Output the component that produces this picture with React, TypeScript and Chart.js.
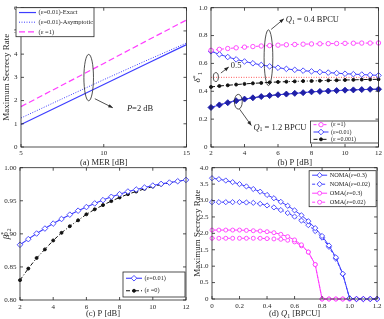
import React, { useEffect, useRef } from "react";
import { Chart, registerables } from "chart.js";
import { drawPoint } from "chart.js/helpers";
Chart.register(...registerables);

const SERIF = "'Liberation Serif','Times New Roman',serif";
const INK = "#262626";
const BLUE = "#3d3dff";
const MAG = "#ff3dff";
const NAVY = "#1f1fa8";
const RED = "#ff3333";

// ---------- (a) ----------
const merDb = [5, 7.5, 10, 12.5, 15];
const rateExact = [0.97, 1.83, 2.69, 3.55, 4.41];
const rateAsym = [1.25, 2.08, 2.9, 3.7, 4.48];
const rateEps1 = [1.74, 2.67, 3.6, 4.54, 5.47];

// ---------- (b) & (c) ----------
const powerDb = [2, 2.5, 3, 3.5, 4, 4.5, 5, 5.5, 6, 6.5, 7, 7.5, 8, 8.5, 9, 9.5, 10, 10.5, 11, 11.5, 12];
const deltaEps1 = [0.694, 0.701, 0.707, 0.712, 0.717, 0.721, 0.725, 0.728, 0.731, 0.734, 0.736, 0.738, 0.74, 0.741, 0.742, 0.743, 0.744, 0.745, 0.746, 0.746, 0.747];
const deltaEps001 = [0.687, 0.665, 0.646, 0.629, 0.614, 0.601, 0.589, 0.579, 0.569, 0.561, 0.554, 0.548, 0.543, 0.538, 0.534, 0.53, 0.526, 0.523, 0.52, 0.517, 0.514];
const deltaEps0001 = [0.431, 0.438, 0.443, 0.448, 0.453, 0.457, 0.46, 0.464, 0.467, 0.469, 0.471, 0.473, 0.474, 0.476, 0.478, 0.479, 0.481, 0.482, 0.484, 0.485, 0.486];
const deltaQ12 = [0.284, 0.302, 0.318, 0.332, 0.344, 0.353, 0.362, 0.369, 0.375, 0.38, 0.385, 0.39, 0.396, 0.399, 0.402, 0.405, 0.408, 0.41, 0.412, 0.414, 0.415];
const thresholdX = [2, 12];
const thresholdY = [0.5, 0.5];
const betaEps001 = [0.8835, 0.892, 0.9005, 0.908, 0.9155, 0.9225, 0.929, 0.935, 0.9405, 0.946, 0.951, 0.956, 0.96, 0.964, 0.967, 0.97, 0.973, 0.9755, 0.9775, 0.9795, 0.9815];
const betaEps0 = [0.83, 0.8475, 0.8635, 0.8765, 0.89, 0.9015, 0.9115, 0.9205, 0.9295, 0.937, 0.9435, 0.9495, 0.955, 0.96, 0.964, 0.968, 0.9715, 0.9745, 0.977, 0.9795, 0.9815];

// ---------- (d) ----------
const q1 = [0, 0.05, 0.1, 0.15, 0.2, 0.25, 0.3, 0.35, 0.4, 0.45, 0.5, 0.55, 0.6, 0.65, 0.7, 0.75, 0.8, 0.85, 0.9, 0.95, 1, 1.05, 1.1, 1.15, 1.2];
const nomaEps03 = [3.68, 3.65, 3.61, 3.56, 3.5, 3.43, 3.35, 3.27, 3.17, 3.07, 2.96, 2.84, 2.7, 2.55, 2.37, 2.16, 1.92, 1.63, 1.27, 0.77, 0.02, 0, 0, 0, 0];
const nomaEps002 = [2.95, 2.95, 2.95, 2.95, 2.95, 2.94, 2.93, 2.9, 2.85, 2.79, 2.71, 2.62, 2.51, 2.39, 2.25, 2.07, 1.87, 1.59, 1.23, 0.76, 0.02, 0, 0, 0, 0];
const omaEps03 = [2.1, 2.1, 2.1, 2.1, 2.1, 2.09, 2.08, 2.07, 2.05, 2.02, 1.97, 1.9, 1.8, 1.65, 1.43, 1.05, 0, 0, 0, 0, 0, 0, 0, 0, 0];
const omaEps002 = [1.85, 1.85, 1.85, 1.85, 1.85, 1.85, 1.85, 1.85, 1.84, 1.83, 1.82, 1.79, 1.74, 1.62, 1.43, 1.05, 0, 0, 0, 0, 0, 0, 0, 0, 0];

type Seg = { t: string; it?: boolean; sub?: boolean; sup?: boolean };

function segFont(size: number, s: Seg) {
  const sz = s.sub || s.sup ? size * 0.7 : size;
  return `${s.it ? "italic " : ""}${sz}px ${SERIF}`;
}
function drawRich(ctx: CanvasRenderingContext2D, segs: Seg[], x: number, y: number, size: number, align: string, rot = 0) {
  ctx.save();
  ctx.translate(x, y);
  ctx.rotate(rot);
  let w = 0;
  segs.forEach((s) => { ctx.font = segFont(size, s); w += ctx.measureText(s.t).width; });
  let cx = align === "center" ? -w / 2 : 0;
  ctx.textBaseline = "middle";
  ctx.textAlign = "left";
  ctx.fillStyle = INK;
  segs.forEach((s) => {
    ctx.font = segFont(size, s);
    const dy = s.sub ? size * 0.28 : s.sup ? -size * 0.32 : 0;
    ctx.fillText(s.t, cx, dy);
    cx += ctx.measureText(s.t).width;
  });
  ctx.restore();
}

const decoPlugin = {
  id: "deco",
  afterDraw(chart: any, _a: any, opts: any) {
    const ctx: CanvasRenderingContext2D = chart.ctx;
    const { left, right, top, bottom } = chart.chartArea;
    const xs = chart.scales.x;
    const ys = chart.scales.y;
    const line = (x1: number, y1: number, x2: number, y2: number) => {
      ctx.beginPath(); ctx.moveTo(x1, y1); ctx.lineTo(x2, y2); ctx.stroke();
    };
    ctx.save();
    ctx.setLineDash([]);
    ctx.strokeStyle = INK;
    ctx.lineWidth = 0.8;
    ctx.strokeRect(left, top, right - left, bottom - top);
    const tl = 3;
    xs.ticks.forEach((t: any) => {
      const p = xs.getPixelForValue(t.value);
      line(p, bottom, p, bottom - tl); line(p, top, p, top + tl);
    });
    ys.ticks.forEach((t: any) => {
      const p = ys.getPixelForValue(t.value);
      line(left, p, left + tl, p); line(right, p, right - tl, p);
    });
    // ellipses
    ctx.lineWidth = 0.8;
    (opts.ellipses || []).forEach((e: any) => {
      const cx = xs.getPixelForValue(e.x), cy = ys.getPixelForValue(e.y);
      const rx = Math.abs(xs.getPixelForValue(e.x + e.rx) - cx);
      const ry = Math.abs(ys.getPixelForValue(e.y + e.ry) - cy);
      ctx.beginPath(); ctx.ellipse(cx, cy, rx, ry, 0, 0, Math.PI * 2); ctx.stroke();
    });
    // arrows
    (opts.arrows || []).forEach((a: any) => {
      const x1 = xs.getPixelForValue(a.x1), y1 = ys.getPixelForValue(a.y1);
      const x2 = xs.getPixelForValue(a.x2), y2 = ys.getPixelForValue(a.y2);
      line(x1, y1, x2, y2);
      const ang = Math.atan2(y2 - y1, x2 - x1);
      const L = 4.5, W = 1.8;
      ctx.fillStyle = INK;
      ctx.beginPath();
      ctx.moveTo(x2, y2);
      ctx.lineTo(x2 - L * Math.cos(ang) + W * Math.sin(ang), y2 - L * Math.sin(ang) - W * Math.cos(ang));
      ctx.lineTo(x2 - L * Math.cos(ang) - W * Math.sin(ang), y2 - L * Math.sin(ang) + W * Math.cos(ang));
      ctx.closePath(); ctx.fill();
    });
    // texts
    (opts.texts || []).forEach((t: any) => {
      drawRich(ctx, t.segs, xs.getPixelForValue(t.x), ys.getPixelForValue(t.y), t.size || 8.5, "left");
    });
    // rich axis titles
    (opts.titles || []).forEach((t: any) => {
      const x = t.x === "center" ? (left + right) / 2 : t.x;
      const y = t.y === "center" ? (top + bottom) / 2 : t.y;
      drawRich(ctx, t.segs, x, y, t.size, "center", t.rot || 0);
    });
    // legend
    const lg = opts.legend;
    if (lg) {
      const bx = right - lg.fromRight - lg.w;
      const by = lg.fromTop != null ? top + lg.fromTop : bottom - lg.fromBottom - lg.h;
      ctx.fillStyle = "#ffffff";
      ctx.fillRect(bx, by, lg.w, lg.h);
      ctx.strokeStyle = INK; ctx.lineWidth = 0.8; ctx.setLineDash([]);
      ctx.strokeRect(bx, by, lg.w, lg.h);
      const n = lg.items.length;
      lg.items.forEach((di: number, i: number) => {
        const ds = chart.data.datasets[di];
        const ry = by + lg.h * (i + 0.5) / n;
        const sx1 = bx + 3, sx2 = bx + 3 + lg.sample;
        ctx.strokeStyle = ds.borderColor; ctx.lineWidth = ds.borderWidth;
        ctx.setLineDash(ds.borderDash || []);
        line(sx1, ry, sx2, ry);
        ctx.setLineDash([]);
        if (ds.pointRadius > 0) {
          ctx.strokeStyle = ds.pointBorderColor; ctx.fillStyle = ds.pointBackgroundColor;
          ctx.lineWidth = ds.pointBorderWidth;
          drawPoint(ctx, { pointStyle: ds.pointStyle, rotation: 0, radius: ds.pointRadius, borderWidth: ds.pointBorderWidth }, (sx1 + sx2) / 2, ry);
        }
        drawRich(ctx, lg.labels[i], sx2 + 2.5, ry, lg.size, "left");
      });
    }
    ctx.restore();
  },
};

function series(label: string, xs: number[], ys: number[], o: any) {
  return {
    label,
    data: xs.map((x, i) => ({ x, y: ys[i] })),
    borderColor: o.color,
    borderWidth: o.width ?? 1,
    borderDash: o.dash || [],
    pointStyle: o.ps || "circle",
    pointRadius: o.r ?? 0,
    pointBorderColor: o.pc || o.color,
    pointBackgroundColor: o.fill || "#ffffff",
    pointBorderWidth: o.pw ?? 0.9,
    tension: 0,
    fill: false,
    clip: false,
  };
}

const tickFont = { family: SERIF, size: 7 };

function xAxis(min: number, max: number, step: number, height: number, title: string | null, tpad: number, lpad = 2) {
  return {
    type: "linear", min, max,
    ticks: { stepSize: step, font: tickFont, color: INK, padding: lpad, maxRotation: 0, autoSkip: false },
    grid: { display: false, drawTicks: false },
    border: { display: false },
    title: title ? { display: true, text: title, font: { family: SERIF, size: 8.5 }, color: INK, padding: { top: 0, bottom: tpad } } : { display: false },
    afterFit: (s: any) => { s.height = height; },
  };
}
function yAxis(min: number, max: number, step: number, width: number, title: string | null, tpad: number) {
  return {
    type: "linear", min, max,
    ticks: { stepSize: step, font: tickFont, color: INK, padding: 3.5, autoSkip: false },
    grid: { display: false, drawTicks: false },
    border: { display: false },
    title: title ? { display: true, text: title, font: { family: SERIF, size: 9 }, color: INK, padding: { top: tpad, bottom: 0 } } : { display: false },
    afterFit: (s: any) => { s.width = width; },
  };
}

function baseOptions(padding: any, scales: any, deco: any) {
  return {
    animation: false,
    responsive: false,
    maintainAspectRatio: false,
    events: [],
    layout: { padding },
    plugins: { legend: { display: false }, tooltip: { enabled: false }, deco },
    scales,
  };
}

const E = (t: string): Seg => ({ t, it: true });
const N = (t: string): Seg => ({ t });
const S = (t: string): Seg => ({ t, sub: true });
const U = (t: string): Seg => ({ t, sup: true });

function cfgA(): any {
  return {
    type: "line",
    data: {
      datasets: [
        series("(ε=0.01)-Exact", merDb, rateExact, { color: BLUE, width: 1.2 }),
        series("(ε=0.01)-Asymptotic", merDb, rateAsym, { color: BLUE, width: 1, dash: [1, 1.5] }),
        series("(ε =1)", merDb, rateEps1, { color: MAG, width: 1.2, dash: [6, 3] }),
      ],
    },
    options: baseOptions({ left: 0, right: 0.5, top: 6, bottom: 0 }, {
      x: xAxis(5, 15, 5, 23, "(a) MER [dB]", 1.9),
      y: yAxis(0, 6, 1, 21, "Maximum Secrecy Rate", 1.3),
    }, {
      ellipses: [{ x: 9.09, y: 2.99, rx: 0.29, ry: 1.0 }],
      arrows: [{ x1: 9.46, y1: 2.08, x2: 10.55, y2: 1.69 }],
      texts: [{ x: 11.4, y: 1.65, segs: [E("P"), N("=2 dB")] }],
      legend: {
        fromRight: 92.5, fromTop: 0, w: 78, h: 29, sample: 17, size: 6.5,
        items: [0, 1, 2],
        labels: [[N("(ε=0.01)-Exact")], [N("(ε=0.01)-Asymptotic")], [N("(ε =1)")]],
      },
    }),
    plugins: [decoPlugin],
  };
}

function cfgB(): any {
  return {
    type: "line",
    data: {
      datasets: [
        series("(ε =1)", powerDb, deltaEps1, { color: MAG, dash: [3, 2], r: 2.2 }),
        series("(ε=0.01)", powerDb, deltaEps001, { color: BLUE, ps: "rectRot", r: 2.8 }),
        series("(ε =0.001)", powerDb, deltaEps0001, { color: "#111111", dash: [4, 2, 1, 2], r: 1.5, fill: "#111111" }),
        series("threshold", thresholdX, thresholdY, { color: RED, width: 0.8, dash: [1, 1.5] }),
        series("Q1=1.2 (ε=0.01)", powerDb, deltaQ12, { color: BLUE, ps: "rectRot", r: 3, fill: NAVY, pc: NAVY }),
        series("Q1=1.2 (ε =0.001)", powerDb, deltaQ12, { color: "#111111", dash: [4, 2, 1, 2], r: 1.4, fill: "#111111" }),
      ],
    },
    options: baseOptions({ left: 0, right: 3, top: 6, bottom: 0 }, {
      x: xAxis(2, 12, 2, 23, "(b) P [dB]", 1.9),
      y: yAxis(0, 1, 0.2, 19, null, 0),
    }, {
      ellipses: [
        { x: 5.43, y: 0.641, rx: 0.26, ry: 0.2 },
        { x: 2.29, y: 0.502, rx: 0.15, ry: 0.032 },
        { x: 3.63, y: 0.325, rx: 0.235, ry: 0.053 },
      ],
      arrows: [
        { x1: 5.59, y1: 0.844, x2: 6.35, y2: 0.92 },
        { x1: 2.59, y1: 0.531, x2: 3.06, y2: 0.574 },
        { x1: 3.71, y1: 0.271, x2: 4.41, y2: 0.154 },
      ],
      texts: [
        { x: 6.47, y: 0.91, segs: [E("Q"), S("1"), N(" = 0.4 BPCU")] },
        { x: 3.18, y: 0.58, segs: [N("0.5")] },
        { x: 4.53, y: 0.14, segs: [E("Q"), S("1"), N(" = 1.2 BPCU")] },
      ],
      titles: [{ x: 6, y: "center", size: 9, rot: -Math.PI / 2, segs: [E("δ"), U("*"), S("1")] }],
      legend: {
        fromRight: 0, fromBottom: 4, w: 68, h: 22, sample: 15, size: 6,
        items: [0, 1, 2],
        labels: [[N("(ε =1)")], [N("(ε=0.01)")], [N("(ε =0.001)")]],
      },
    }),
    plugins: [decoPlugin],
  };
}

function cfgC(): any {
  return {
    type: "line",
    data: {
      datasets: [
        series("(ε=0.01)", powerDb, betaEps001, { color: BLUE, ps: "rectRot", r: 2.8, width: 1.1 }),
        series("(ε =0)", powerDb, betaEps0, { color: "#111111", dash: [4, 2, 1, 2], r: 1.5, fill: "#111111" }),
      ],
    },
    options: baseOptions({ left: 0, right: 0, top: 6.7, bottom: 0 }, {
      x: xAxis(2, 12, 2, 19, "(c) P [dB]", 0, 2.5),
      y: yAxis(0.8, 1, 0.05, 20, null, 0),
    }, {
      titles: [{ x: 6.5, y: "center", size: 9, rot: -Math.PI / 2, segs: [E("β"), U("*"), S("2")] }],
      legend: {
        fromRight: 1, fromBottom: 3, w: 62, h: 25, sample: 16, size: 6.3,
        items: [0, 1],
        labels: [[N("(ε=0.01)")], [N("(ε =0)")]],
      },
    }),
    plugins: [decoPlugin],
  };
}

function cfgD(): any {
  return {
    type: "line",
    data: {
      datasets: [
        series("NOMA(ε=0.3)", q1, nomaEps03, { color: BLUE, ps: "rectRot", r: 2.6 }),
        series("NOMA(ε=0.02)", q1, nomaEps002, { color: BLUE, ps: "rectRot", r: 2.6, dash: [3, 2] }),
        series("OMA(ε=0.3)", q1, omaEps03, { color: MAG, r: 2 }),
        series("OMA(ε=0.02)", q1, omaEps002, { color: MAG, r: 2, dash: [3, 2] }),
      ],
    },
    options: baseOptions({ left: 0, right: 4, top: 6.7, bottom: 0 }, {
      x: xAxis(0, 1.2, 0.2, 20, null, 0, 2.5),
      y: yAxis(0, 4, 0.5, 20, "Maximum Secrecy Rate", 0.6),
    }, {
      titles: [{ x: "center", y: 154, size: 8.5, segs: [N("(d) "), E("Q"), S("1"), N(" [BPCU]")] }],
      legend: {
        fromRight: 1, fromTop: 3, w: 67, h: 36, sample: 15, size: 6.3,
        items: [0, 1, 2, 3],
        labels: [[N("NOMA("), E("ε"), N("=0.3)")], [N("NOMA("), E("ε"), N("=0.02)")], [N("OMA("), E("ε"), N("=0.3)")], [N("OMA("), E("ε"), N("=0.02)")]],
      },
    }),
    plugins: [decoPlugin],
  };
}

function Panel({ make, left, top, w, h }: { make: () => any; left: number; top: number; w: number; h: number }) {
  const ref = useRef<HTMLCanvasElement>(null);
  useEffect(() => {
    const c = new Chart(ref.current as HTMLCanvasElement, make());
    return () => c.destroy();
  }, []);
  return (
    <canvas ref={ref} width={w} height={h}
      style={{ position: "absolute", left, top, width: w, height: h, display: "block" }} />
  );
}

export default function App() {
  return (
    <div style={{ position: "fixed", left: 0, top: 0, width: 384, height: 319, background: "#ffffff" }}>
      <Panel make={cfgA} left={0} top={0} w={192} h={170} />
      <Panel make={cfgB} left={192} top={0} w={192} h={170} />
      <Panel make={cfgC} left={0} top={160} w={192} h={159} />
      <Panel make={cfgD} left={192} top={160} w={192} h={159} />
    </div>
  );
}
